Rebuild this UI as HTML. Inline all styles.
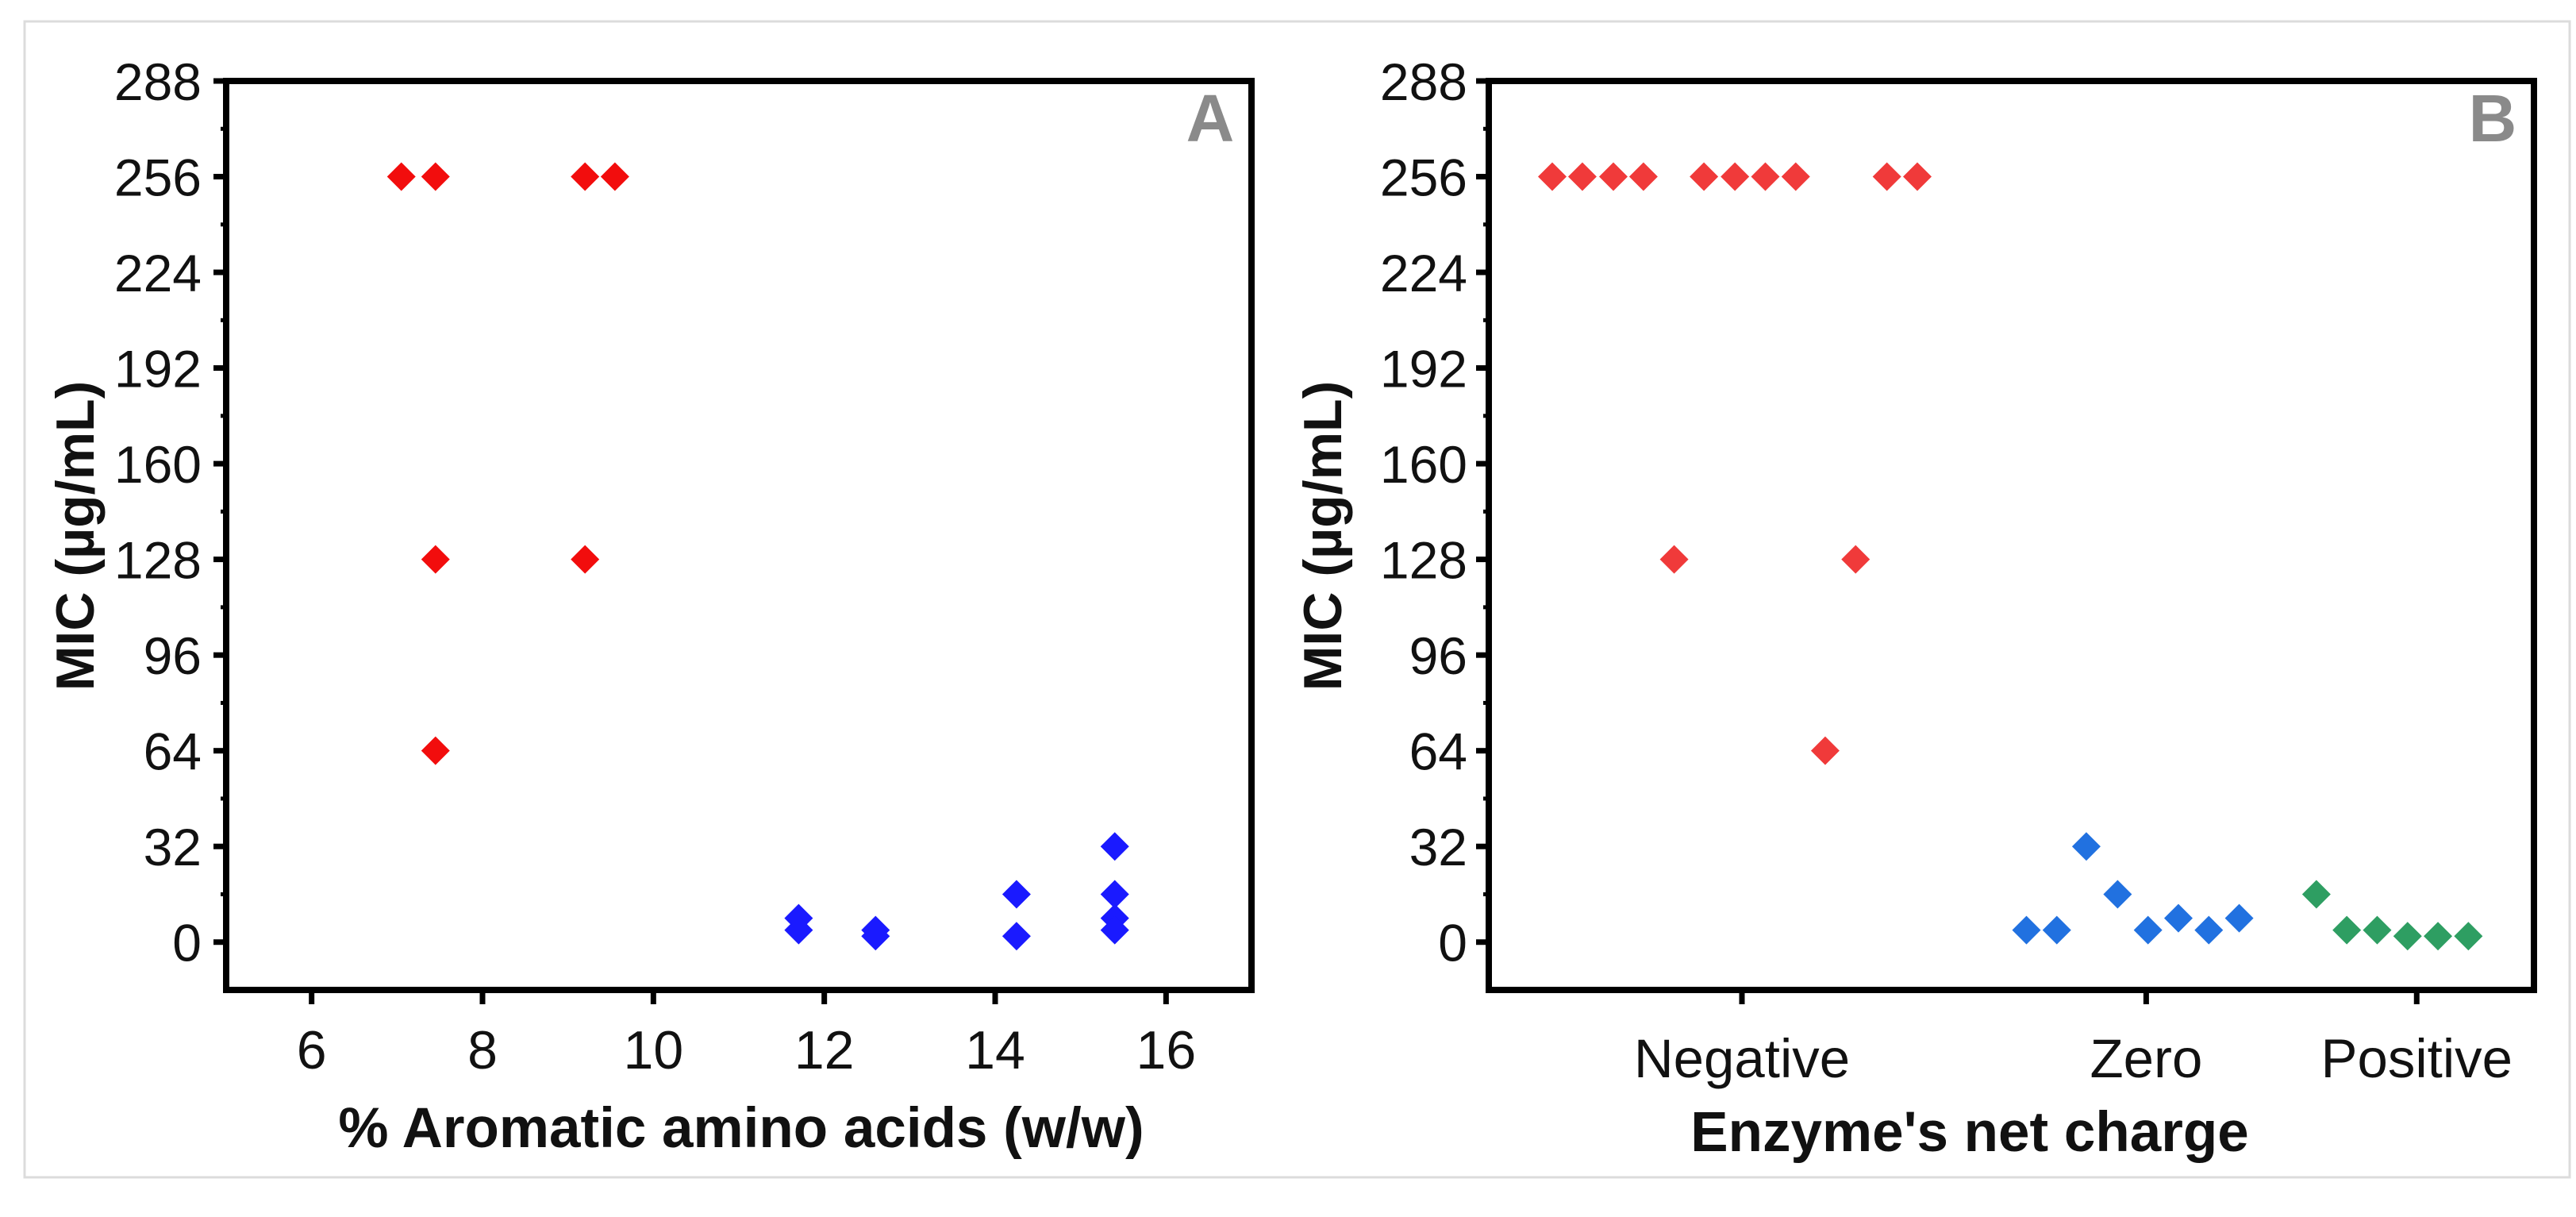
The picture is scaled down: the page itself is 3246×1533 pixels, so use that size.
<!DOCTYPE html>
<html><head><meta charset="utf-8"><style>
html,body{margin:0;padding:0;background:#fff;}
svg{display:block;font-family:"Liberation Sans",Arial,sans-serif;}
</style></head><body>
<svg id="fig" width="3246" height="1533" viewBox="0 0 3246 1533" xmlns="http://www.w3.org/2000/svg">
<rect x="31" y="27" width="3207" height="1456" fill="#fff" stroke="#dcdcdc" stroke-width="3"/>
<g id="panelA"></g>
<g id="panelB"></g>
</svg>
<script>
// Panel A data
const aRedX = [7.05, 7.45, 9.2, 9.55, 7.45, 9.2, 7.45];
const aRedY = [256, 256, 256, 256, 128, 128, 64];
const aBlueX = [11.7, 11.7, 12.6, 12.6, 14.25, 14.25, 15.4, 15.4, 15.4, 15.4];
const aBlueY = [8, 4, 4, 2, 16, 2, 32, 16, 8, 4];
const aXTicks = [6, 8, 10, 12, 14, 16];
const yTicks = [0, 32, 64, 96, 128, 160, 192, 224, 256, 288];
// Panel B data
const bCategories = ["Negative", "Zero", "Positive"];
const bCategoryPos = [0, 13.3, 22.2];
const bRedX = [-6.24, -5.25, -4.23, -3.24, -1.25, -0.23, 0.77, 1.77, 4.77, 5.77, -2.23, 3.74, 2.74];
const bRedY = [256, 256, 256, 256, 256, 256, 256, 256, 256, 256, 128, 128, 64];
const bBlueX = [9.36, 10.36, 11.33, 12.36, 13.36, 14.36, 15.36, 16.36];
const bBlueY = [4, 4, 32, 16, 4, 8, 4, 8];
const bGreenX = [18.9, 19.9, 20.9, 21.9, 22.9, 23.9];
const bGreenY = [16, 4, 4, 2, 2, 2];

const NS = "http://www.w3.org/2000/svg";
function mk(parent, tag, attrs, text) {
  const e = document.createElementNS(NS, tag);
  for (const k in attrs) e.setAttribute(k, attrs[k]);
  if (text !== undefined) e.textContent = text;
  parent.appendChild(e);
  return e;
}
const plotTop = 102, plotBottom = 1247, yMin = -16, yMax = 288;
function yScale(v) { return plotBottom - (v - yMin) / (yMax - yMin) * (plotBottom - plotTop); }

function drawFrame(g, left, right, tickRight, ylabelX, letter) {
  for (let v = 0; v <= 288; v += 16) {
    const y = yScale(v);
    const major = v % 32 === 0;
    const t = mk(g, "line", {x1: left, x2: left - (major ? 16 : 7), y1: y, y2: y, stroke: "#000", "stroke-width": major ? 7 : 5});
    
    
  }
  yTicks.forEach(v => {
    const t = mk(g, "text", {x: tickRight, y: yScale(v) + 24, "font-size": 66, "text-anchor": "end", fill: "#111"}, String(v));
    
    
  });
  const yl = mk(g, "text", {x: ylabelX, y: 675, "font-size": 68, "font-weight": "bold", "text-anchor": "middle", transform: `rotate(-90 ${ylabelX} 675)`, fill: "#111", "dominant-baseline": "middle"}, "MIC (µg/mL)");
  
  
  const box = mk(g, "rect", {x: left, y: plotTop, width: right - left, height: plotBottom - plotTop, fill: "none", stroke: "#000", "stroke-width": 8});
  
  
  const L = mk(g, "text", {x: right - 52, y: plotTop + 76, "font-size": 84, "font-weight": "bold", "text-anchor": "middle", fill: "#8a8a8a"}, letter);
  
  
}
function diamond(g, cx, cy, color, name) {
  const r = 18;
  const p = mk(g, "polygon", {points: `${cx},${cy - r} ${cx + r},${cy} ${cx},${cy + r} ${cx - r},${cy}`, fill: color});
  
  
}

// Panel A
(function () {
  const g = document.getElementById("panelA");
  const left = 285, right = 1577, xMin = 5, xMax = 17;
  const xs = v => left + (v - xMin) / (xMax - xMin) * (right - left);
  aXTicks.forEach(v => {
    const t = mk(g, "line", {x1: xs(v), x2: xs(v), y1: plotBottom, y2: plotBottom + 18, stroke: "#000", "stroke-width": 7});
    
    
    const l = mk(g, "text", {x: xs(v), y: 1346, "font-size": 68, "text-anchor": "middle", fill: "#111"}, String(v));
    
    
  });
  drawFrame(g, left, right, 254, 100, "A");
  const xt = mk(g, "text", {x: 934, y: 1445, "font-size": 71, "font-weight": "bold", "text-anchor": "middle", fill: "#111"}, "% Aromatic amino acids (w/w)");
  
  
  aRedX.forEach((x, i) => diamond(g, xs(x), yScale(aRedY[i]), "#f20d0d", "red-point"));
  aBlueX.forEach((x, i) => diamond(g, xs(x), yScale(aBlueY[i]), "#1a1aff", "blue-point"));
})();

// Panel B
(function () {
  const g = document.getElementById("panelB");
  const left = 1876, right = 3193, x0 = 2195, unit = 38.3;
  const xs = u => x0 + u * unit;
  bCategories.forEach((c, i) => {
    const x = xs(bCategoryPos[i]);
    const t = mk(g, "line", {x1: x, x2: x, y1: plotBottom, y2: plotBottom + 18, stroke: "#000", "stroke-width": 7});
    
    
    const l = mk(g, "text", {x: x, y: 1357, "font-size": 69, "text-anchor": "middle", fill: "#111"}, c);
    
    
  });
  drawFrame(g, left, right, 1849, 1672, "B");
  const xt = mk(g, "text", {x: 2482, y: 1450, "font-size": 71, "font-weight": "bold", "text-anchor": "middle", fill: "#111"}, "Enzyme's net charge");
  
  
  bRedX.forEach((x, i) => diamond(g, xs(x), yScale(bRedY[i]), "#f03a3a", "negative-point"));
  bBlueX.forEach((x, i) => diamond(g, xs(x), yScale(bBlueY[i]), "#2171e0", "zero-point"));
  bGreenX.forEach((x, i) => diamond(g, xs(x), yScale(bGreenY[i]), "#2e9e62", "positive-point"));
})();
</script>
</body></html>
